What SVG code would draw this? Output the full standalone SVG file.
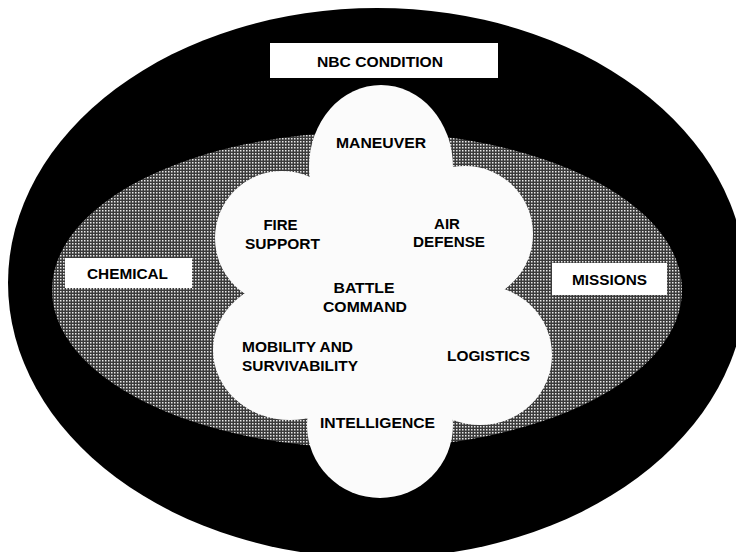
<svg xmlns="http://www.w3.org/2000/svg" width="736" height="552" viewBox="0 0 736 552">
<style>
.lbl{font-family:"Liberation Sans",Arial,sans-serif;font-weight:bold;font-size:15px;fill:#000;text-anchor:middle}
.box{fill:#fff;stroke:none}
.lobe{fill:#fbfbfb;stroke:none}
</style>
<defs>
  <pattern id="dither" width="3" height="3" patternUnits="userSpaceOnUse">
    <rect width="3" height="3" fill="#3a3a3a"/>
    <rect x="0" y="0" width="1.5" height="1.5" fill="#e8e8e8"/>
  </pattern>
</defs>
<rect x="0" y="0" width="736" height="552" fill="#fff"/>
<g id="background">
  <ellipse cx="377" cy="283" rx="369" ry="275" fill="#000"/>
  <ellipse cx="367" cy="290" rx="315" ry="158" fill="url(#dither)"/>
</g>
<g id="cloud">
  <ellipse class="lobe" cx="381" cy="167" rx="72" ry="82"/>
  <circle class="lobe" cx="465" cy="234" r="68"/>
  <ellipse class="lobe" cx="480" cy="355" rx="72" ry="70"/>
  <circle class="lobe" cx="380" cy="425" r="73"/>
  <ellipse class="lobe" cx="290" cy="350" rx="77" ry="70"/>
  <circle class="lobe" cx="282" cy="238" r="67"/>
  <polygon class="lobe" points="315,185 448,180 492,290 448,415 312,412 252,295"/>
</g>
<g id="connectors"/>
<g id="nbc-condition">
  <rect class="box" x="270" y="43" width="228" height="35"/>
  <text class="lbl" x="380" y="67" textLength="126" lengthAdjust="spacingAndGlyphs">NBC CONDITION</text>
</g>
<g id="chemical">
  <rect class="box" x="65" y="258" width="127" height="30"/>
  <text class="lbl" x="127.5" y="279" textLength="81" lengthAdjust="spacingAndGlyphs">CHEMICAL</text>
</g>
<g id="missions">
  <rect class="box" x="552" y="263" width="115" height="32"/>
  <text class="lbl" x="609.5" y="285" textLength="75" lengthAdjust="spacingAndGlyphs">MISSIONS</text>
</g>
<g id="maneuver">
  <text class="lbl" x="381" y="148" textLength="90" lengthAdjust="spacingAndGlyphs">MANEUVER</text>
</g>
<g id="fire-support">
  <text class="lbl" x="280.5" y="230">FIRE</text>
  <text class="lbl" x="282.5" y="249" textLength="75" lengthAdjust="spacingAndGlyphs">SUPPORT</text>
</g>
<g id="air-defense">
  <text class="lbl" x="447" y="229">AIR</text>
  <text class="lbl" x="449" y="247" textLength="72" lengthAdjust="spacingAndGlyphs">DEFENSE</text>
</g>
<g id="battle-command">
  <text class="lbl" x="364" y="293" textLength="61" lengthAdjust="spacingAndGlyphs">BATTLE</text>
  <text class="lbl" x="365" y="312" textLength="84" lengthAdjust="spacingAndGlyphs">COMMAND</text>
</g>
<g id="mobility-survivability">
  <text class="lbl" x="297.5" y="352" textLength="111" lengthAdjust="spacingAndGlyphs">MOBILITY AND</text>
  <text class="lbl" x="300" y="371" textLength="116" lengthAdjust="spacingAndGlyphs">SURVIVABILITY</text>
</g>
<g id="logistics">
  <text class="lbl" x="488.5" y="361" textLength="83" lengthAdjust="spacingAndGlyphs">LOGISTICS</text>
</g>
<g id="intelligence">
  <text class="lbl" x="377.5" y="428" textLength="115" lengthAdjust="spacingAndGlyphs">INTELLIGENCE</text>
</g>
</svg>
